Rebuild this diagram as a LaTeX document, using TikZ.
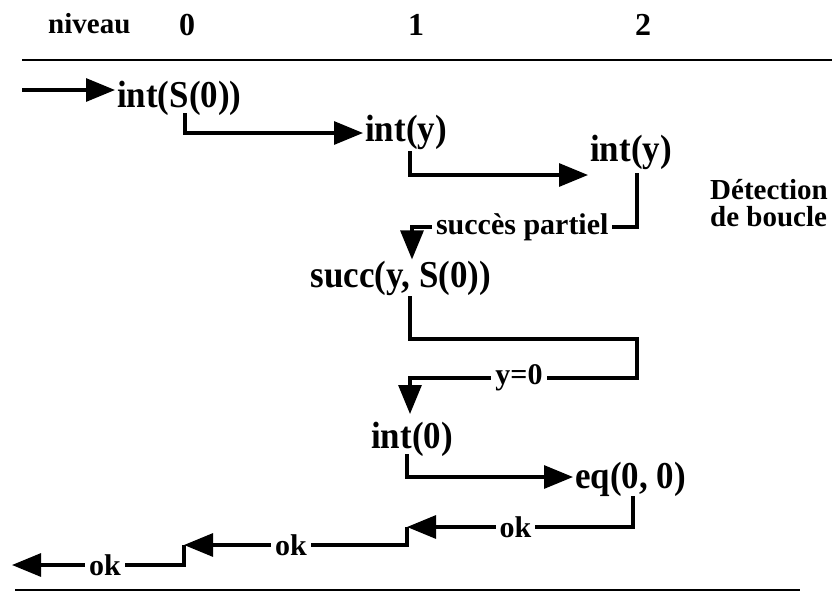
\documentclass[tikz,border=0pt]{standalone}
\usepackage{fontspec}
\setmainfont{Liberation Serif}
\newfontfamily\narrowserif[FakeStretch=0.92]{Liberation Serif}
\usetikzlibrary{arrows.meta}
\begin{document}
\begin{tikzpicture}[x=1pt,y=-1pt,
  rule/.style={line width=2.8pt},
  conn/.style={line width=3.1pt},
  arr/.style={conn, -{Triangle[length=29pt,width=23pt]}},
  main/.style={font=\narrowserif\fontsize{38}{42}\selectfont\bfseries, inner sep=0pt, anchor=base west},
  head/.style={font=\fontsize{32}{36}\selectfont\bfseries, inner sep=0pt, anchor=base},
  det/.style={font=\fontsize{29}{30}\selectfont\bfseries, inner sep=0pt, anchor=base west},
  lab/.style={font=\fontsize{30}{34}\selectfont\bfseries, fill=white, inner xsep=4pt, inner ysep=2pt}]
\useasboundingbox (0,0) rectangle (836,597);

% header
\node[head, anchor=base west, font=\fontsize{29}{32}\selectfont\bfseries] (niv) at (48,33) {niveau};
\node[head] (l0) at (187,35) {0};
\node[head] (l1) at (416,35) {1};
\node[head] (l2) at (643,35) {2};
\coordinate (tl) at (22,60);
\coordinate (tr) at (832,60);
\draw[rule] (tl) -- (tr);
\coordinate (bl) at (15,590);
\coordinate (br) at (800,590);
\draw[rule] (bl) -- (br);

% nodes
\node[main] (n0) at (117,107) {int(S(0))};
\node[main] (n1) at (365,141) {int(y)};
\node[main] (n2) at (590,161) {int(y)};
\node[main, anchor=base] (n3) at (401,287) {succ(y, S(0))};
\node[main] (n4) at (371,448) {int(0)};
\node[main] (n5) at (575,488) {eq(0, 0)};
\node[det] (d1) at (710,199) {Détection};
\node[det] (d2) at (710,226) {de boucle};

% entry
\coordinate (e0) at (22,90);
\draw[arr, shorten >=2pt] (e0) -- (n0.west |- e0);

% n0 -> n1
\coordinate (a0) at (185,113);
\coordinate (a1) at (185,133);
\draw[arr, shorten >=2pt] (a0) -- (a1) -- (n1.west |- a1);

% n1 -> n2
\coordinate (b0) at (410,151);
\coordinate (b1) at (410,175);
\draw[arr, shorten >=2pt] (b0) -- (b1) -- (n2.west |- b1);

% n2 -> n3
\coordinate (c0) at (637,173);
\coordinate (c1) at (637,227);
\coordinate (c2) at (412,227);
\draw[arr, shorten >=1pt] (c0) -- (c1) -- node[lab, pos=.51] {succès partiel} (c2) -- (n3.north -| c2);

% n3 -> n4
\coordinate (f0) at (410,296);
\coordinate (f1) at (410,339);
\coordinate (f2) at (637,339);
\coordinate (f3) at (637,378);
\coordinate (f4) at (410,378);
\coordinate (f5) at (410,414);
\draw[arr] (f0) -- (f1) -- (f2) -- (f3) -- node[lab, pos=.52] {y=0} (f4) -- (f5);

% n4 -> n5
\coordinate (g0) at (407,454);
\coordinate (g1) at (407,477);
\draw[arr, shorten >=2pt] (g0) -- (g1) -- (n5.west |- g1);

% returns
\coordinate (h0) at (633,496);
\coordinate (h1) at (633,527);
\coordinate (h2) at (407,527);
\draw[arr] (h0) -- (h1) -- node[lab, pos=.52] {ok} (h2);
\coordinate (k1) at (407,545);
\coordinate (k2) at (184,545);
\draw[arr] (h2) -- (k1) -- node[lab, pos=.52] {ok} (k2);
\coordinate (m1) at (184,565);
\coordinate (m2) at (12,565);
\draw[arr] (k2) -- (m1) -- node[lab, pos=.46] {ok} (m2);
\end{tikzpicture}
\end{document}
